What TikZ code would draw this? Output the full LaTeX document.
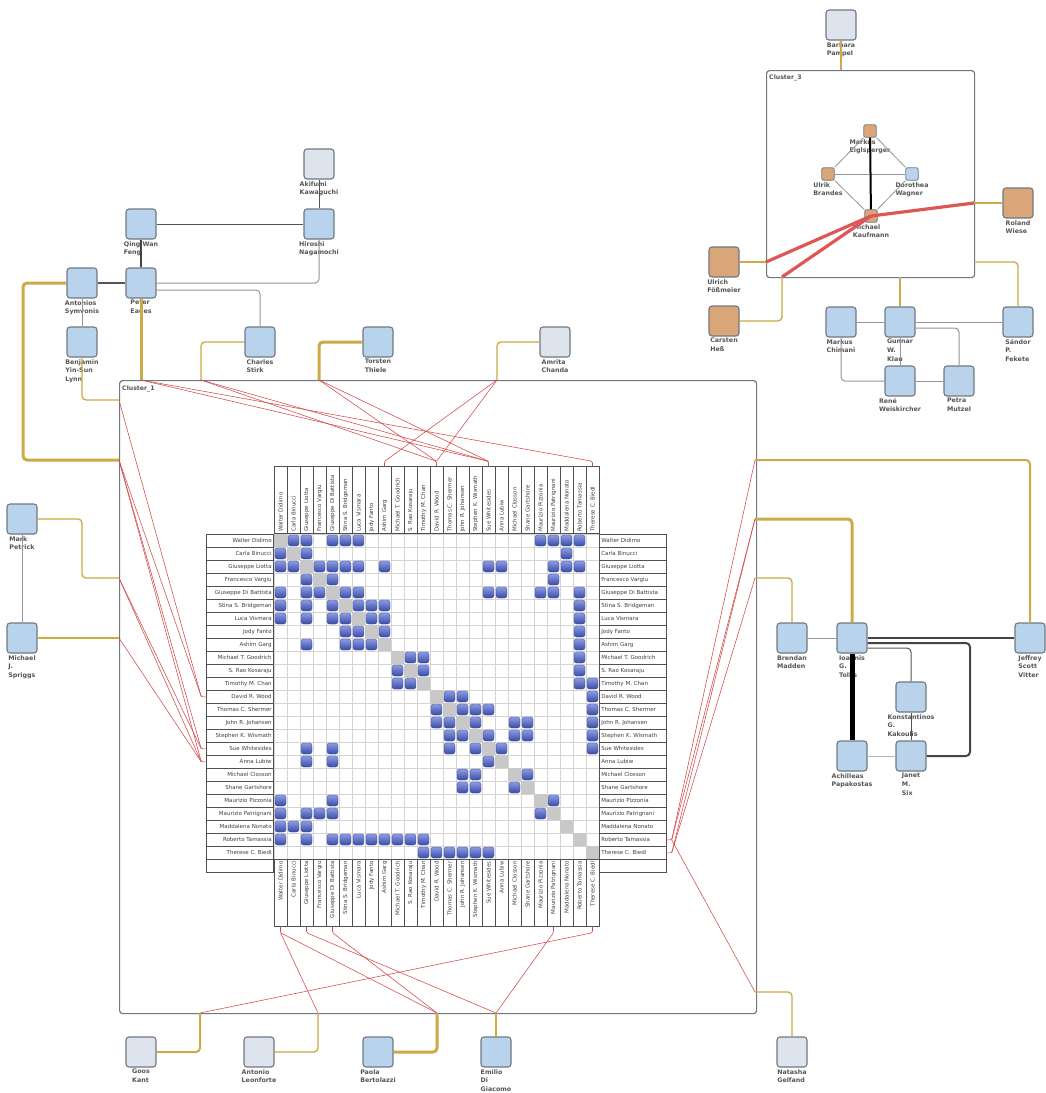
\documentclass[tikz,border=0pt]{standalone}
\usepackage{fontspec}
\newfontfamily\dejavu{DejaVu Sans}
\usetikzlibrary{calc}

\definecolor{nodeblue}{RGB}{186,211,236}
\definecolor{nodelight}{RGB}{221,228,238}
\definecolor{nodeorange}{RGB}{216,166,120}
\definecolor{nodeborder}{RGB}{112,120,130}
\definecolor{goldline}{RGB}{204,170,72}
\definecolor{redline}{RGB}{212,72,72}
\definecolor{thickred}{RGB}{222,86,86}
\definecolor{edgegray}{RGB}{85,85,85}
\definecolor{lightedge}{RGB}{150,150,150}
\definecolor{labelgray}{RGB}{85,85,85}
\definecolor{gridgray}{RGB}{212,212,212}
\definecolor{diaggray}{RGB}{200,200,200}
\definecolor{blobtop}{RGB}{140,155,226}
\definecolor{blobbot}{RGB}{58,76,168}
\definecolor{boxborder}{RGB}{80,80,80}

\tikzset{
  person/.style={draw=nodeborder, line width=1.1pt, rounded corners=3pt,
    minimum size=30pt, inner sep=0pt, fill=nodeblue},
  lightp/.style={person, fill=nodelight},
  orangep/.style={person, fill=nodeorange},
  smallp/.style={person, minimum size=12.5pt, line width=0.8pt, rounded corners=2pt},
  pname/.style={align=left, font=\dejavu\bfseries\fontsize{6.3}{8.6}\selectfont,
    text=labelgray, inner sep=0.5pt, label distance=1pt},
  cluster/.style={draw=nodeborder, line width=1.2pt, rounded corners=3pt, fill=white},
  clname/.style={font=\dejavu\bfseries\fontsize{6.2}{7}\selectfont, text=labelgray, anchor=west, inner sep=0pt},
  gold/.style={draw=goldline, line width=1.3pt, rounded corners=4pt},
  goldthick/.style={gold, line width=3pt},
  goldmid/.style={gold, line width=2pt},
  redthin/.style={draw=redline, line width=0.55pt, rounded corners=1.5pt},
  redthick/.style={draw=thickred, line width=3.2pt},
  grayedge/.style={draw=edgegray, line width=1pt, rounded corners=4pt},
  darkedge/.style={draw=edgegray!80!black, line width=2pt, rounded corners=4pt},
  lightedge/.style={draw=lightedge, line width=1pt, rounded corners=4pt},
  gridline/.style={draw=gridgray, line width=0.5pt},
  labbox/.style={draw=boxborder, line width=0.7pt, fill=white, inner xsep=2pt, inner ysep=0pt,
    minimum height=13pt, text width=63pt,
    font=\dejavu\fontsize{5.5}{6}\selectfont, text=black!75},
  blob/.style={top color=blobtop, bottom color=blobbot, draw=blobbot!85!black,
    line width=0.3pt, rounded corners=2.5pt},
}

\newcommand\cellblob[2]{\path[blob] (274+13*#2+1, 534+13*#1+1) rectangle ++(11,11);}

\begin{document}
\begin{tikzpicture}[x=1pt, y=-1pt]
\useasboundingbox[fill=white] (0,0) rectangle (1045,1093);

% ---------- cluster frames ----------
\node[cluster, minimum width=637pt, minimum height=633pt, anchor=north west, inner sep=0pt] (cl1) at (119,380) {};
\node[clname] at (122,389) {Cluster\_1};
\node[cluster, minimum width=208pt, minimum height=207pt, anchor=north west, inner sep=0pt] (cl3) at (766,70) {};
\node[clname] at (769,78) {Cluster\_3};

% ---------- ports on the cluster frames ----------
\coordinate (pBenj) at (119,400);
\coordinate (pAnt) at (119,460);
\coordinate (pMark) at (119,578);
\coordinate (pSpr) at (119,638);
\coordinate (pPeter) at (141,380);
\coordinate (pStirk) at (201,380);
\coordinate (pThiele) at (319,380);
\coordinate (pChanda) at (497,380);
\coordinate (pVitter) at (755,460);
\coordinate (pTollis) at (755,519);
\coordinate (pMadden) at (755,578);
\coordinate (pGelf) at (755,992);
\coordinate (pKant) at (200,1013);
\coordinate (pLeon) at (318,1013);
\coordinate (pBert) at (437,1013);
\coordinate (pGiac) at (496,1013);
\coordinate (qPampel) at (841,70);
\coordinate (qWiese) at (974,203);
\coordinate (qFoess) at (766,262);
\coordinate (qHess) at (782,277);
\coordinate (qKlau) at (900,277);
\coordinate (qFek) at (974,262);

% ---------- adjacency matrix of Cluster_1 ----------
\foreach \i in {0,...,25} {
  \draw[gridline] (274+13*\i,534) -- (274+13*\i,859);
  \draw[gridline] (274,534+13*\i) -- (599,534+13*\i);
}
\foreach \i in {0,...,24} {
  \fill[diaggray] (274+13*\i,534+13*\i) rectangle ++(13,13);
}
\foreach \r/\c in {0/1,0/2,0/4,0/5,0/6,0/20,0/21,0/22,0/23,
  1/2,1/22,
  2/3,2/4,2/5,2/6,2/8,2/16,2/17,2/21,2/22,2/23,
  3/4,3/21,
  4/5,4/6,4/16,4/17,4/20,4/21,4/23,
  5/6,5/7,5/8,5/23, 6/7,6/8,6/23, 7/8,7/23, 8/23,
  9/10,9/11,9/23, 10/11,10/23, 11/23,11/24,
  12/13,12/14,12/24, 13/14,13/15,13/16,13/24,
  14/15,14/18,14/19,14/24, 15/16,15/18,15/19,15/24,
  16/17,16/24, 18/19, 20/21} {
  \cellblob{\r}{\c}
  \cellblob{\c}{\r}
}

\foreach \n [count=\k from 0] in {Walter Didimo, Carla Binucci, Giuseppe Liotta,
  Francesco Vargiu, Giuseppe Di Battista, Stina S. Bridgeman, Luca Vismara,
  Jody Fanto, Ashim Garg, Michael T. Goodrich, S. Rao Kosaraju, Timothy M. Chan,
  David R. Wood, Thomas C. Shermer, John R. Johansen, Stephen K. Wismath,
  Sue Whitesides, Anna Lubiw, Michael Closson, Shane Gartshore, Maurizio Pizzonia,
  Maurizio Patrignani, Maddalena Nonato, Roberto Tamassia, Therese C. Biedl} {
  \node[labbox, align=right, anchor=north east] (L\k) at (274,534+13*\k) {\n};
  \node[labbox, align=left, anchor=north west] (R\k) at (599,534+13*\k) {\n};
  \node[labbox, align=left, rotate=90, anchor=west] (T\k) at (280.5+13*\k,534) {\n};
  \node[labbox, align=right, rotate=90, anchor=east] (B\k) at (280.5+13*\k,859) {\n};
}
\node[labbox, anchor=north east] (Lx) at (274,859) {};
\node[labbox, anchor=north west] (Rx) at (599,859) {};

% ---------- people ----------
\node[lightp, label={[pname]below:{Akifumi\\Kawaguchi}}] (kawaguchi) at (319,164) {};
\node[person, label={[pname]below:{Hiroshi\\Nagamochi}}] (nagamochi) at (319,224) {};
\node[person, label={[pname]below:{Qing Wan\\Feng}}] (feng) at (141,224) {};
\node[person, label={[pname]below:{Antonios\\Symvonis}}] (symvonis) at (82,283) {};
\node[person, label={[pname]below:{Peter\\Eades}}] (eades) at (141,283) {};
\node[person, label={[pname]below:{Benjamin\\Yin-Sun\\Lynn}}] (lynn) at (82,342) {};
\node[person, label={[pname]below:{Charles\\Stirk}}] (stirk) at (260,342) {};
\node[person, label={[pname]below:{Torsten\\Thiele}}] (thiele) at (378,342) {};
\node[lightp, label={[pname]below:{Amrita\\Chanda}}] (chanda) at (555,342) {};
\node[person, label={[pname]below:{Mark\\Petrick}}] (petrick) at (22,519) {};
\node[person, label={[pname]below:{Michael\\J.\\Spriggs}}] (spriggs) at (22,638) {};

\node[lightp, label={[pname]below:{Barbara\\Pampel}}] (pampel) at (841,25) {};
\node[smallp, fill=nodeorange, label={[pname]below:{Markus\\Eiglsperger}}] (eiglsperger) at (870,131) {};
\node[smallp, fill=nodeorange, label={[pname]below:{Ulrik\\Brandes}}] (brandes) at (828,174) {};
\node[smallp, label={[pname]below:{Dorothea\\Wagner}}] (wagner) at (912,174) {};
\node[smallp, fill=nodeorange, label={[pname]below:{Michael\\Kaufmann}}] (kaufmann) at (871,216) {};
\node[orangep, label={[pname]below:{Roland\\Wiese}}] (wiese) at (1018,203) {};
\node[orangep, label={[pname]below:{Ulrich\\Fößmeier}}] (foessmeier) at (724,262) {};
\node[orangep, label={[pname]below:{Carsten\\Heß}}] (hess) at (724,321) {};
\node[person, label={[pname]below:{Markus\\Chimani}}] (chimani) at (841,322) {};
\node[person, label={[pname]below:{Gunnar\\W.\\Klau}}] (klau) at (900,322) {};
\node[person, label={[pname]below:{Sándor\\P.\\Fekete}}] (fekete) at (1018,322) {};
\node[person, label={[pname]below:{René\\Weiskircher}}] (weiskircher) at (900,381) {};
\node[person, label={[pname]below:{Petra\\Mutzel}}] (mutzel) at (959,381) {};

\node[person, label={[pname]below:{Brendan\\Madden}}] (madden) at (792,638) {};
\node[person, label={[pname]below:{Ioannis\\G.\\Tollis}}] (tollis) at (852,638) {};
\node[person, label={[pname]below:{Jeffrey\\Scott\\Vitter}}] (vitter) at (1030,638) {};
\node[person, label={[pname]below:{Konstantinos\\G.\\Kakoulis}}] (kakoulis) at (911,697) {};
\node[person, label={[pname]below:{Achilleas\\Papakostas}}] (papakostas) at (852,756) {};
\node[person, label={[pname]below:{Janet\\M.\\Six}}] (six) at (911,756) {};

\node[lightp, label={[pname]below:{Goos\\Kant}}] (kant) at (141,1052) {};
\node[lightp, label={[pname]below:{Antonio\\Leonforte}}] (leonforte) at (259,1052) {};
\node[person, label={[pname]below:{Paola\\Bertolazzi}}] (bertolazzi) at (378,1052) {};
\node[person, label={[pname]below:{Emilio\\Di\\Giacomo}}] (giacomo) at (496,1052) {};
\node[lightp, label={[pname]below:{Natasha\\Gelfand}}] (gelfand) at (792,1052) {};

% ---------- edges between people ----------
\draw[grayedge] (kawaguchi) -- (nagamochi);
\draw[grayedge] (feng) -- (nagamochi);
\draw[darkedge] (feng) -- (eades);
\draw[grayedge, line width=1.5pt] (symvonis) -- (eades);
\draw[lightedge] (eades.east) -| (nagamochi.south);
\draw[lightedge] ($(eades.east)+(0,7)$) -| (stirk.north);
\draw[lightedge] (symvonis) -- (lynn);
\draw[lightedge] (petrick) -- (spriggs);

\draw[lightedge, line width=0.8pt] (eiglsperger) -- (brandes);
\draw[lightedge, line width=0.8pt] (eiglsperger) -- (wagner);
\draw[lightedge, line width=0.8pt] (brandes) -- (wagner);
\draw[lightedge, line width=0.8pt] (brandes) -- (kaufmann);
\draw[lightedge, line width=0.8pt] (wagner) -- (kaufmann);
\draw[black, line width=2pt] (eiglsperger) -- (kaufmann);

\draw[lightedge] (chimani) -- (klau);
\draw[lightedge] (klau) -- (fekete);
\draw[lightedge] (klau) -- (weiskircher);
\draw[lightedge] ($(klau.east)+(0,6)$) -| (mutzel.north);
\draw[lightedge] (chimani.south) |- (weiskircher.west);
\draw[lightedge] (weiskircher) -- (mutzel);

\draw[lightedge] (madden) -- (tollis);
\draw[darkedge] (tollis) -- (vitter);
\draw[darkedge] ($(tollis.east)+(0,5)$) -- (970,643) -- (970,756) -- (six.east);
\draw[grayedge] ($(tollis.east)+(0,10)$) -| (kakoulis.north);
\draw[black, line width=5pt] (tollis) -- (papakostas);
\draw[lightedge!70] (papakostas) -- (six);
\draw[grayedge] (kakoulis) -- (six);

% ---------- edges from people to cluster frames ----------
\draw[goldthick] (symvonis.west) -- (23,283) -- (23,460) -- (pAnt);
\draw[goldthick] (eades.south) -- (pPeter);
\draw[gold] (lynn.south) |- (pBenj);
\draw[gold] (stirk.west) -| (pStirk);
\draw[goldthick] (thiele.west) -| (pThiele);
\draw[gold] (chanda.west) -| (pChanda);
\draw[gold] (petrick.east) -- (82,519) -- (82,578) -- (pMark);
\draw[gold] (spriggs.east) -- (pSpr);
\draw[goldmid] (pVitter) -| (vitter.north);
\draw[goldthick] (pTollis) -| (tollis.north);
\draw[gold] (pMadden) -| (madden.north);
\draw[gold] (pGelf) -| (gelfand.north);
\draw[goldmid] (kant.east) -| (pKant);
\draw[gold] (leonforte.east) -| (pLeon);
\draw[goldthick] (bertolazzi.east) -| (pBert);
\draw[gold] (giacomo.north) -- (pGiac);
\draw[gold] (pampel.south) -- (qPampel);
\draw[gold] (qWiese) -- (wiese.west);
\draw[goldmid] (foessmeier.east) -- (qFoess);
\draw[gold] (qHess) |- (hess.east);
\draw[gold] (klau.north) -- (qKlau);
\draw[gold] (qFek) -| (fekete.north);

% ---------- edges inside the clusters ----------
\draw[redthick] (kaufmann.center) -- (qWiese);
\draw[redthick] (kaufmann.center) -- (qFoess);
\draw[redthick] (kaufmann.center) -- (qHess);

% left side
\draw[redthin] (pBenj) -- ($(L12.west)+(-5,0)$) -- (L12.west);
\draw[redthin] (pAnt) -- ($(L12.west)+(-5,0)$);
\draw[redthin] (pAnt) -- ($(L16.west)+(-5,0)$) -- (L16.west);
\draw[redthin] (pAnt) -- ($(L17.west)+(-5,0)$) -- (L17.west);
\draw[redthin] (pMark) -- ($(L16.west)+(-5,0)$);
\draw[redthin] (pMark) -- ($(L17.west)+(-5,0)$);
\draw[redthin] (pSpr) -- ($(L17.west)+(-5,0)$);
% top side
\draw[redthin] (pPeter) -- ($(T16.east)+(0,-5)$) -- (T16.east);
\draw[redthin] (pPeter) -- ($(T24.east)+(0,-5)$) -- (T24.east);
\draw[redthin] (pStirk) -- ($(T12.east)+(0,-5)$) -- (T12.east);
\draw[redthin] (pStirk) -- ($(T16.east)+(0,-5)$);
\draw[redthin] (pThiele) -- ($(T12.east)+(0,-5)$);
\draw[redthin] (pThiele) -- ($(T16.east)+(0,-5)$);
\draw[redthin] (pChanda) -- ($(T8.east)+(0,-5)$) -- (T8.east);
\draw[redthin] (pChanda) -- ($(T12.east)+(0,-5)$);
% right side
\draw[redthin] (pVitter) -- ($(R23.east)+(5,0)$) -- (R23.east);
\draw[redthin] (pTollis) -- ($(R23.east)+(5,0)$);
\draw[redthin] (pTollis) -- ($(R24.east)+(5,0)$) -- (R24.east);
\draw[redthin] (pMadden) -- ($(R24.east)+(5,0)$);
\draw[redthin] (pGelf) -- ($(R23.east)+(5,0)$);
% bottom side
\draw[redthin] (pLeon) -- ($(B0.west)+(0,6)$) -- (B0.west);
\draw[redthin] (pBert) -- ($(B0.west)+(0,6)$);
\draw[redthin] (pBert) -- ($(B4.west)+(0,6)$) -- (B4.west);
\draw[redthin] (pGiac) -- ($(B2.west)+(0,6)$) -- (B2.west);
\draw[redthin] (pGiac) -- ($(B21.west)+(0,6)$) -- (B21.west);
\draw[redthin] (pKant) -- ($(B24.west)+(0,6)$) -- (B24.west);

\end{tikzpicture}
\end{document}
